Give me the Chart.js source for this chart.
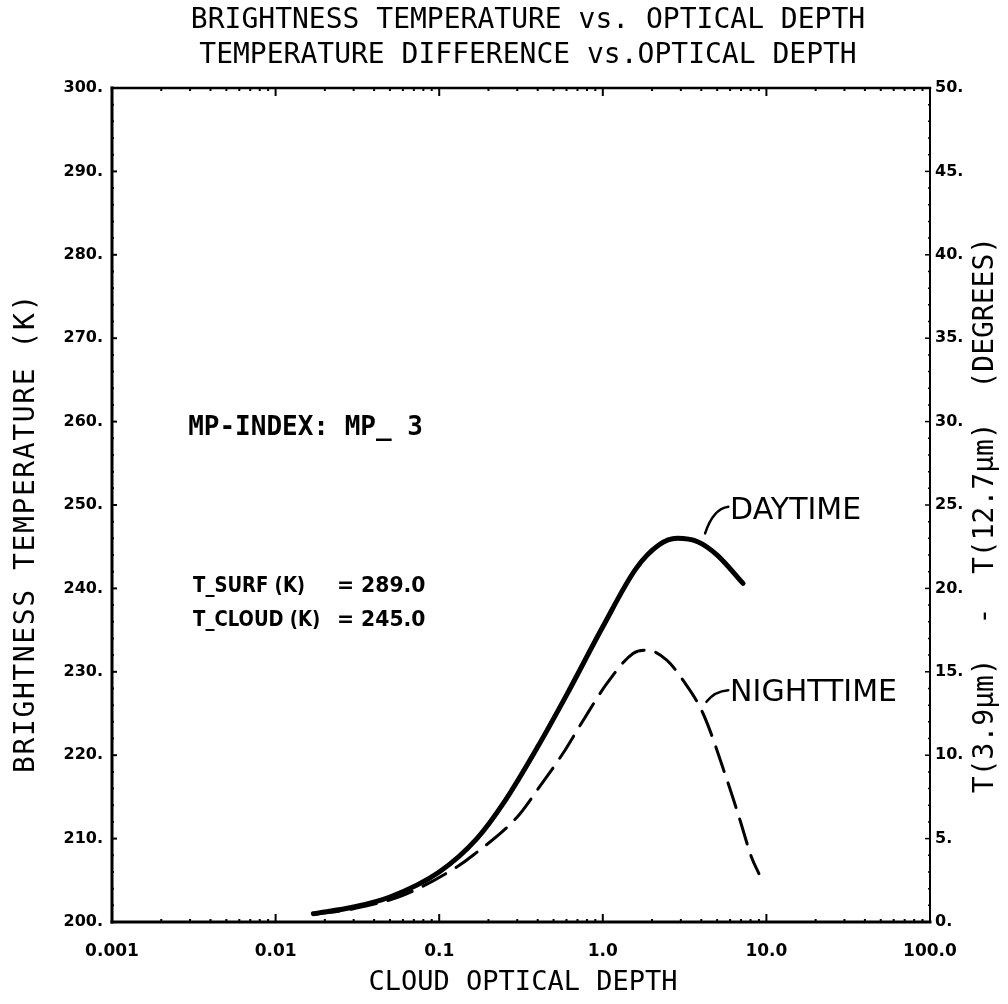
<!DOCTYPE html>
<html><head><meta charset="utf-8">
<script src="https://cdn.jsdelivr.net/npm/chart.js@4.4.1/dist/chart.umd.min.js"></script>
<style>html,body{margin:0;padding:0;background:#fff}#wrap{width:1008px;height:1004px}</style>
</head><body><div id="wrap"><canvas id="c" width="1008" height="1004"></canvas></div>
<script>
// ---- data ----
const dayTau    = [0.017, 0.03, 0.05, 0.1, 0.17, 0.25, 0.4, 0.6, 1.0, 1.6, 2.2, 2.84, 3.8, 5.0, 7.2];
const dayDiff   = [0.5,   0.9,  1.5,  3.0, 5.0,  7.2,  10.5, 13.6, 17.7, 21.2, 22.6, 23.0, 22.8, 22.0, 20.3];
const nightTau  = [0.017, 0.03, 0.06, 0.128, 0.161, 0.3, 0.41, 0.57, 0.76, 1.06, 1.53, 1.86, 2.46, 3.09, 4.1, 5.75, 6.9, 8.1, 9.0];
const nightDiff = [0.45,  0.8,  1.6,  3.3,   4.0,   6.3, 8.1,  10.1, 12.1, 14.3, 16.1, 16.3, 15.7, 14.5, 12.5, 8.5, 6.1, 3.9, 2.9];
const xTickValues = [0.001, 0.01, 0.1, 1, 10, 100];
const xTickLabels = ['0.001', '0.01', '0.1', '1.0', '10.0', '100.0'];
const titleLines = ['BRIGHTNESS TEMPERATURE vs. OPTICAL DEPTH', 'TEMPERATURE DIFFERENCE vs.OPTICAL DEPTH'];
const xTitle = 'CLOUD OPTICAL DEPTH';
const yLeftTitle = 'BRIGHTNESS TEMPERATURE (K)';
const yRightTitle = 'T(3.9\u03bcm)  -  T(12.7\u03bcm)  (DEGREES)';
const infoLines = [['T_SURF (K)', '= 289.0'], ['T_CLOUD (K)', '= 245.0']];
const mpIndex = 'MP-INDEX: MP_ 3';

const toPts = (xs, ys) => xs.map((v, i) => ({x: v, y: ys[i]}));

function seg(ctx, x1, y1, x2, y2, w) {
  ctx.lineWidth = w; ctx.beginPath(); ctx.moveTo(x1, y1); ctx.lineTo(x2, y2); ctx.stroke();
}
function txt(ctx, s, x, y, font, o = {}) {
  ctx.save();
  ctx.translate(x, y);
  if (o.rot) ctx.rotate(o.rot);
  if (o.sx) ctx.scale(o.sx, 1);
  ctx.font = font;
  ctx.fillStyle = '#000';
  ctx.textAlign = o.align || 'left';
  ctx.textBaseline = 'middle';
  if (o.ls) ctx.letterSpacing = o.ls + 'px';
  ctx.fillText(s, 0, 0);
  ctx.restore();
}

const decor = {
  id: 'decor',
  afterDraw(chart) {
    const {ctx, chartArea: a, scales: {x, y, y1}} = chart;
    ctx.save();
    ctx.strokeStyle = '#000';
    ctx.lineCap = 'square';
    // frame
    seg(ctx, a.left, a.top, a.left, a.bottom, 3);
    seg(ctx, a.left, a.bottom, a.right, a.bottom, 3);
    seg(ctx, a.left, a.top, a.right, a.top, 2.5);
    seg(ctx, a.right, a.top, a.right, a.bottom, 2);
    ctx.lineCap = 'butt';
    // log ticks top & bottom
    for (let d = -3; d < 2; d++) {
      for (let m = 1; m < 10; m++) {
        const px = x.getPixelForValue(m * Math.pow(10, d));
        const len = m === 1 ? 8 : 3;
        seg(ctx, px, a.bottom, px, a.bottom - len, 2);
        seg(ctx, px, a.top, px, a.top + len, 2);
      }
    }
    // left / right ticks
    for (let v = 200; v <= 300; v += 2) {
      const py = y.getPixelForValue(v);
      seg(ctx, a.left, py, a.left + (v % 10 === 0 ? 5 : 2), py, 2);
    }
    for (let v = 0; v <= 50; v += 1) {
      const py = y1.getPixelForValue(v);
      seg(ctx, a.right, py, a.right - (v % 5 === 0 ? 5 : 2), py, 1.5);
    }
    // titles
    const cx = (a.left + a.right) / 2 + 7;
    txt(ctx, titleLines[0], cx, 21, '28px "DejaVu Sans Mono"', {align: 'center'});
    txt(ctx, titleLines[1], cx, 56, '28px "DejaVu Sans Mono"', {align: 'center'});
    txt(ctx, xTitle, cx - 5, 983, '27px "DejaVu Sans Mono"', {align: 'center'});
    txt(ctx, yLeftTitle, 27, (a.top + a.bottom) / 2 + 28, '28px "DejaVu Sans Mono"', {align: 'center', rot: -Math.PI / 2, ls: 1.6});
    txt(ctx, yRightTitle, 986, (a.top + a.bottom) / 2 + 10, '28px "DejaVu Sans Mono"', {align: 'center', rot: -Math.PI / 2});
    // annotations positioned in data units
    txt(ctx, mpIndex, x.getPixelForValue(0.00292), y.getPixelForValue(259.2), 'bold 26px "DejaVu Sans Mono"');
    infoLines.forEach((ln, i) => {
      const py = y.getPixelForValue(240.2 - i * 4.0);
      txt(ctx, ln[0], x.getPixelForValue(0.00313), py, 'bold 21px "DejaVu Sans"', {sx: 0.86});
      txt(ctx, ln[1], x.getPixelForValue(0.0237), py, 'bold 21px "DejaVu Sans"', {sx: 0.97});
    });
    // curve labels with leader lines
    ctx.lineWidth = 2.5; ctx.lineCap = 'round';
    let p0 = [x.getPixelForValue(4.22), y1.getPixelForValue(23.3)];
    let p1 = [x.getPixelForValue(5.85), y1.getPixelForValue(24.9)];
    ctx.beginPath(); ctx.moveTo(p0[0], p0[1]); ctx.quadraticCurveTo(p0[0] + 8, p1[1] + 2, p1[0], p1[1]); ctx.stroke();
    txt(ctx, 'DAYTIME', x.getPixelForValue(6.0), y1.getPixelForValue(24.6), '30px "DejaVu Sans"');
    p0 = [x.getPixelForValue(4.3), y1.getPixelForValue(13.2)];
    p1 = [x.getPixelForValue(5.85), y1.getPixelForValue(13.9)];
    ctx.beginPath(); ctx.moveTo(p0[0], p0[1]); ctx.quadraticCurveTo(p0[0] + 8, p1[1] + 1, p1[0], p1[1]); ctx.stroke();
    txt(ctx, 'NIGHTTIME', x.getPixelForValue(6.0), y1.getPixelForValue(13.7), '30px "DejaVu Sans"');
    ctx.restore();
  }
};

new Chart(document.getElementById('c'), {
  type: 'line',
  data: {
    datasets: [
      {label: 'DAYTIME', data: toPts(dayTau, dayDiff), yAxisID: 'y1', borderColor: '#000', borderWidth: 5,
       pointRadius: 0, cubicInterpolationMode: 'monotone', borderCapStyle: 'round', fill: false},
      {label: 'NIGHTTIME', data: toPts(nightTau, nightDiff), yAxisID: 'y1', borderColor: '#000', borderWidth: 3,
       borderDash: [26, 12], pointRadius: 0, cubicInterpolationMode: 'monotone', borderCapStyle: 'round', fill: false}
    ]
  },
  options: {
    responsive: false,
    devicePixelRatio: 1,
    animation: false,
    layout: {padding: {top: 88, left: 0, right: 0, bottom: 0}},
    plugins: {legend: {display: false}, title: {display: false}, tooltip: {enabled: false}},
    scales: {
      x: {
        type: 'logarithmic', position: 'bottom', min: 0.001, max: 100,
        afterBuildTicks: s => { s.ticks = xTickValues.map(v => ({value: v})); },
        afterFit: s => { s.height = 82; },
        ticks: {autoSkip: false, maxRotation: 0, padding: 19, color: '#000',
          font: {family: 'DejaVu Sans', size: 17, weight: 'bold'},
          callback: (v, i) => xTickLabels[i]},
        grid: {display: false, drawTicks: false}, border: {display: false}
      },
      y: {
        type: 'linear', position: 'left', min: 200, max: 300,
        afterFit: s => { s.width = 112; },
        ticks: {stepSize: 10, padding: 9, color: '#000',
          font: {family: 'DejaVu Sans', size: 16, weight: 'bold'},
          callback: v => v + '.'},
        grid: {display: false, drawTicks: false}, border: {display: false}
      },
      y1: {
        type: 'linear', position: 'right', min: 0, max: 50,
        afterFit: s => { s.width = 78; },
        ticks: {stepSize: 5, padding: 5, color: '#000',
          font: {family: 'DejaVu Sans', size: 16, weight: 'bold'},
          callback: v => v + '.'},
        grid: {display: false, drawTicks: false}, border: {display: false}
      }
    }
  },
  plugins: [decor]
});
</script>
</body></html>
